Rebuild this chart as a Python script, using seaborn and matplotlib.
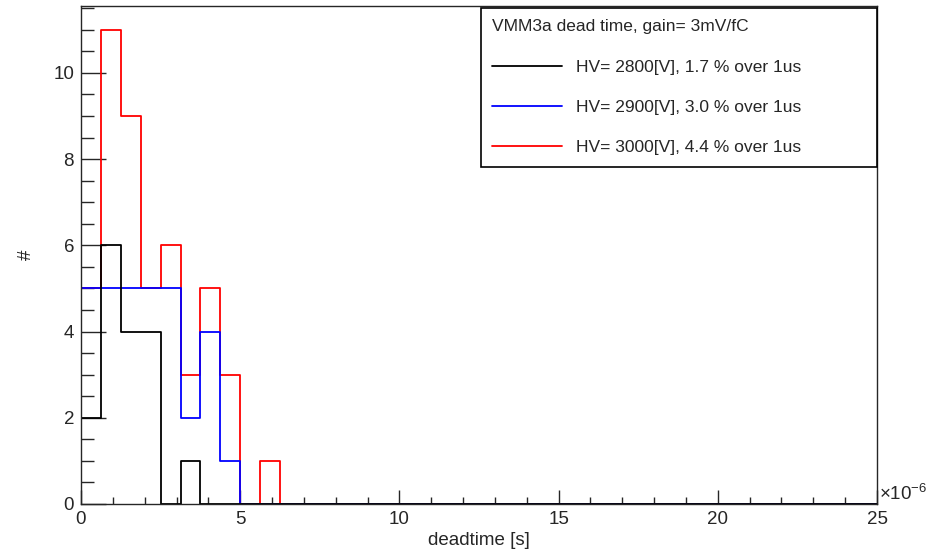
import numpy as np
import pandas as pd
import seaborn as sns
import matplotlib.pyplot as plt
from matplotlib.lines import Line2D
from matplotlib.ticker import MultipleLocator, FuncFormatter

# histogram: 40 bins over 0..25 us, counts
n_bins = 40
x_max = 25e-6
counts_2800 = [2, 6, 4, 4, 0, 1] + [0] * 34
counts_2900 = [5, 5, 5, 5, 5, 2, 4, 1] + [0] * 32
counts_3000 = [5, 11, 9, 5, 6, 3, 5, 3, 0, 1] + [0] * 30
labels = ["HV= 2800[V], 1.7 % over 1us",
          "HV= 2900[V], 3.0 % over 1us",
          "HV= 3000[V], 4.4 % over 1us"]
colors = ["black", "blue", "red"]
legend_title = "VMM3a dead time, gain= 3mV/fC"

sns.set_style("ticks")
plt.rcParams['font.family'] = ['Liberation Sans', 'DejaVu Sans']
plt.rcParams['mathtext.fontset'] = 'custom'
plt.rcParams['mathtext.rm'] = 'Liberation Sans'
plt.rcParams['mathtext.it'] = 'Liberation Sans'

edges = np.linspace(0, x_max, n_bins + 1)
centers = (edges[:-1] + edges[1:]) / 2

df = pd.concat([
    pd.DataFrame({'deadtime': centers, 'n': c, 'hv': lab})
    for c, lab in zip([counts_2800, counts_2900, counts_3000], labels)
])

fig = plt.figure(figsize=(9.4, 5.52), dpi=100)
ax = fig.add_axes([81/940, 48/552, 796/940, 498/552])

# draw red first, black last (black on top)
for lab, col in list(zip(labels, colors))[::-1]:
    sub = df[df.hv == lab]
    sns.histplot(data=sub, x='deadtime', weights='n', bins=n_bins,
                 binrange=(0, x_max), element='step', fill=False,
                 color=col, linewidth=1.3, ax=ax)

ax.set_xlim(0, x_max)
ax.set_ylim(0, 11.55)
ax.xaxis.set_major_locator(MultipleLocator(5e-6))
ax.xaxis.set_minor_locator(MultipleLocator(1e-6))
ax.xaxis.set_major_formatter(FuncFormatter(lambda v, p: f"{v*1e6:g}"))
ax.yaxis.set_major_locator(MultipleLocator(2))
ax.yaxis.set_minor_locator(MultipleLocator(0.5))
ax.tick_params(axis='both', which='both', direction='in', labelsize=13.5,
               top=False, right=False, width=1)
ax.tick_params(axis='y', which='major', length=18, pad=5)
ax.tick_params(axis='y', which='minor', length=9)
ax.tick_params(axis='x', which='major', length=10, pad=5)
ax.tick_params(axis='x', which='minor', length=5)
for s in ax.spines.values():
    s.set_visible(True)
    s.set_linewidth(1)

ax.set_xlabel("deadtime [s]", fontsize=13.5)
ax.xaxis.set_label_coords(0.5, -0.056)
ax.set_ylabel("#", fontsize=13.5)
ax.yaxis.set_label_coords(-0.058, 0.5)
ax.text(1.002, 0.0, r"$\times10^{-6}$", transform=ax.transAxes,
        fontsize=13.5, ha='left', va='bottom')

handles = [Line2D([], [], color=c, linewidth=1.3) for c in colors]
leg = ax.legend(handles, labels, title=legend_title, loc='upper left',
                bbox_to_anchor=(0.5025, 0.996, 0.4975, 0.0), mode='expand',
                fontsize=12.5, title_fontsize=12.5,
                frameon=True, fancybox=False, edgecolor='black', framealpha=1,
                handlelength=4.0, handletextpad=0.85, labelspacing=1.45,
                borderpad=0.65, alignment='left', borderaxespad=0)
leg.get_frame().set_linewidth(1.2)

fig.savefig("out.png", dpi=100)
